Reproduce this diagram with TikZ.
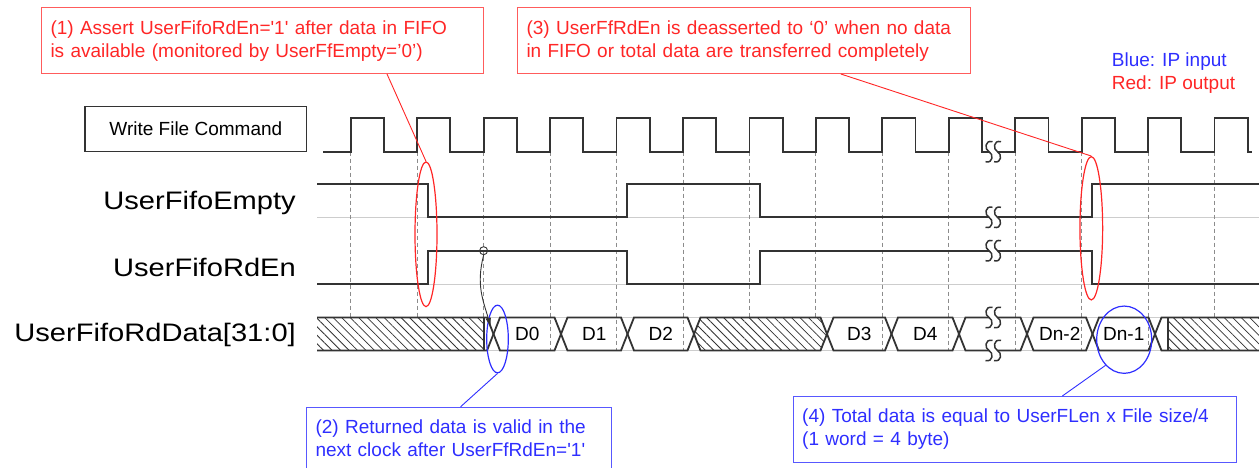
\documentclass[tikz,border=0pt]{standalone}
\usepackage{fontspec}
\setmainfont{Liberation Sans}
\newfontfamily\labelfont[FakeStretch=1.15]{Liberation Sans}
\usepackage{tikz}
\usetikzlibrary{arrows.meta,shapes.geometric,patterns.meta}
\definecolor{sigline}{HTML}{333333}
\definecolor{gridline}{HTML}{8C8C8C}
\definecolor{lowgray}{HTML}{CDCDCD}
\definecolor{outred}{HTML}{FF2626}
\definecolor{inblue}{HTML}{2E2EFF}
\newcommand{\sshape}[2]{%
  \draw[sigline, line width=1.5pt] (#1+3.5,#2-10) .. controls (#1-4.5,#2-12) and (#1-4.5,#2-2) .. (#1,#2)
      .. controls (#1+4.5,#2+2) and (#1+4.5,#2+12) .. (#1-3.5,#2+10);
}
\newcommand{\sigbreak}[2]{%
  \fill[white] (#1-4,#2-3) rectangle (#1+4.5,#2+3);
  \sshape{#1-4}{#2}
  \sshape{#1+4.5}{#2}
}

\begin{document}
\begin{tikzpicture}
    [x=1pt, y=-1pt,
    sig/.style={sigline, line width=1.8pt},
    tick/.style={gridline, line width=0.8pt, dash pattern=on 4pt off 3pt},
    level0/.style={lowgray, line width=1pt},
    hatch/.style={preaction={fill=white}, pattern={Lines[angle=-45,distance=6pt,line width=0.8pt]}, pattern color=sigline},
    cell/.style={font=\fontsize{19}{23}\selectfont, inner sep=0pt},
    signame/.style={anchor=base east, font=\labelfont\fontsize{25.3}{30}\selectfont, inner sep=0pt},
    note/.style={draw, line width=1pt, anchor=north west, align=left, inner xsep=9pt, inner ysep=12.5pt, font=\fontsize{19}{23}\selectfont},
    notered/.style={note, draw=outred!75, text=outred},
    noteblue/.style={note, draw=inblue!80, text=inblue},
    ring/.style={ellipse, draw, line width=1.2pt, inner sep=0pt},
    callred/.style={outred, line width=0.9pt},
    callblue/.style={inblue, line width=0.9pt}]
    \useasboundingbox (0,0) rectangle (1259,468);
    \clip (0,0) rectangle (1259,468);

    \foreach \y in {217.3,284.3,317.5,350.5}
        \draw[level0] (317,\y) -- (1259,\y);
    \foreach \k in {0,...,13}
        \draw[tick] ({350.7+66.45*\k},151.7) -- ++(0,198.8);

    % clock
    \draw[sig] (323,151.7)
        \foreach \k in {0,...,13} {
            -- ({350.7+66.45*\k},151.7) -- ++(0,-33.4) -- ++(33.2,0) -- ++(0,33.4)
        } -- (1252,151.7);

    % fifo flags
    \draw[sig] (317,184.3) -- (428,184.3) -- (428,217.3) -- (627,217.3) -- (627,184.3)
        -- (760,184.3) -- (760,217.3) -- (1092,217.3) -- (1092,184.3) -- (1259,184.3);
    \draw[sig] (317,284.3) -- (428,284.3) -- (428,250.7) -- (627,250.7) -- (627,284.3)
        -- (760,284.3) -- (760,250.7) -- (1092,250.7) -- (1092,284.3) -- (1259,284.3);

    % data bus
    \fill[hatch] (317,317.5) rectangle (484.3,350.5);
    \fill[hatch] (694,334) -- (700.5,317.5) -- (820.5,317.5) -- (827,334) -- (820.5,350.5) -- (700.5,350.5) -- cycle;
    \fill[hatch] (1168.3,317.5) rectangle (1259,350.5);
    \draw[sig] (317,317.5) -- (487,317.5) -- (493.5,334) -- (487,350.5) -- (317,350.5);
    \draw[sig] (484.3,317.5) -- (484.3,350.5);
    \foreach \a/\b in {493.5/561, 561/627.5, 627.5/694, 694/827, 827/891.5, 891.5/959, 959/1027, 1027/1092.5, 1092.5/1155}
        \draw[sig] (\a,334) -- (\a+6.5,317.5) -- (\b-6.5,317.5) -- (\b,334) -- (\b-6.5,350.5) -- (\a+6.5,350.5) -- cycle;
    \draw[sig] (1259,317.5) -- (1161.5,317.5) -- (1155,334) -- (1161.5,350.5) -- (1259,350.5);
    \draw[sig] (1168.3,317.5) -- (1168.3,350.5);
    \foreach \nm/\tx/\cx in {d0/D0/527.25, d1/D1/594.25, d2/D2/660.75, d3/D3/859.25, d4/D4/925.25, dn2/Dn-2/1059.75, dn1/Dn-1/1123.75}
        \node[cell] (\nm) at (\cx,334) {\tx};

    \sigbreak{993}{151.7}
    \sigbreak{993}{217.3}
    \sigbreak{993}{250.7}
    \sigbreak{993}{317.5}
    \sigbreak{993}{350.5}

    \node[draw=sigline, line width=1.3pt, minimum width=221.7pt, minimum height=45pt, inner sep=0pt, cell] (wrcmd) at (195.85,129.2) {Write File Command};
    \node[signame] (lbempty) at (296,209) {UserFifoEmpty};
    \node[signame] (lbrden) at (296,276.7) {UserFifoRdEn};
    \node[signame] (lbdata) at (296,341.7) {UserFifoRdData[31:0]};

    \node[cell, anchor=base west, text=inblue] (keyin) at (1111.7,66.7) {Blue: IP input};
    \node[cell, anchor=base west, text=outred] (keyout) at (1111.7,90) {Red: IP output};

    \node[notered, text width=424pt] (note1) at (41,7.3)
        {(1) Assert UserFifoRdEn=\textquotesingle1\textquotesingle{} after data in FIFO\\is available (monitored by UserFfEmpty=’0’)};
    \node[notered, text width=435pt] (note3) at (517,7.3)
        {(3) UserFfRdEn is deasserted to ‘0’ when no data\\in FIFO or total data are transferred completely};
    \node[noteblue, text width=287pt] (note2) at (306,406.7)
        {(2) Returned data is valid in the\\next clock after UserFfRdEn=\textquotesingle1\textquotesingle};
    \node[noteblue, text width=425pt] (note4) at (792.7,396)
        {(4) Total data is equal to UserFLen x File size/4\\(1 word = 4 byte)};

    \node[ring, outred, minimum width=22pt, minimum height=144.7pt] (ring1) at (426,234.3) {};
    \node[ring, outred, minimum width=22.7pt, minimum height=143.3pt] (ring2) at (1091.3,228.3) {};
    \node[ring, inblue, minimum width=21.6pt, minimum height=67.7pt] (ring3) at (497.5,339) {};
    \node[ring, inblue, minimum width=55pt, minimum height=67.3pt] (ring4) at (1124.2,339.7) {};

    \draw[callred] (note1.-15) -- (ring1.north);
    \draw[callred] (note3.-19.7) -- (ring2.north);
    \draw[callblue] (note2.87) -- (ring3.south);
    \draw[callblue] (note4.35.6) -- (ring4.-126);

    \node[circle, draw=sigline, line width=0.9pt, inner sep=0pt, minimum size=8pt] (rdmark) at (483.6,250.7) {};
    \coordinate (rdtip) at (490.5,326);
    \draw[sigline, line width=0.9pt, -{Triangle[length=8pt,width=5pt]}] (rdmark.south) .. controls (476,285) and (483,300) .. (rdtip);
\end{tikzpicture}
\end{document}
